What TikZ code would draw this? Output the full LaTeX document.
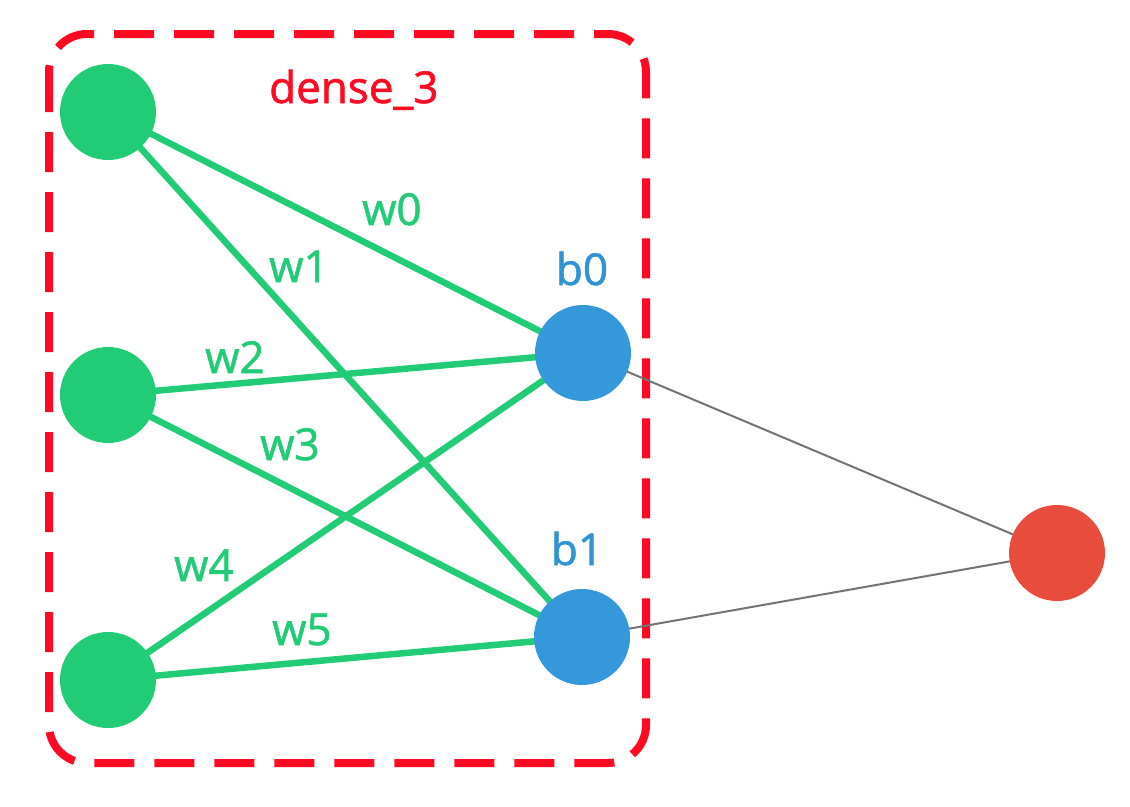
\documentclass[tikz,border=0pt]{standalone}
\usepackage{fontspec}
\setmainfont{Open Sans}
\newfontfamily\lblfont{Open Sans}[FakeBold=1.4]
\definecolor{ngreen}{HTML}{22CC77}
\definecolor{nblue}{HTML}{3498DB}
\definecolor{nred}{HTML}{E74C3C}
\definecolor{boxred}{HTML}{FF0A22}
\definecolor{lblue}{HTML}{3094D4}
\begin{document}
\begin{tikzpicture}[x=1pt,y=-1pt,
  neuron/.style={circle,inner sep=0pt,minimum size=96pt},
  gnode/.style={neuron,fill=ngreen},
  bnode/.style={neuron,fill=nblue},
  rnode/.style={neuron,fill=nred},
  wedge/.style={draw=ngreen,line width=6.5pt},
  gedge/.style={draw=gray!110,line width=2pt},
  lbl/.style={anchor=base west,inner sep=0pt,font=\lblfont\fontsize{44}{50}\selectfont},
  wlbl/.style={lbl,text=ngreen},
  blbl/.style={anchor=base,inner sep=0pt,font=\lblfont\fontsize{44}{50}\selectfont,text=lblue},
  layerbox/.style={draw=boxred,line width=8pt,rounded corners=38pt,dash pattern=on 40pt off 20pt}
]
\useasboundingbox (0,0) rectangle (1130,806);
\draw[layerbox] (49,34) rectangle (646,763);
\coordinate (g1c) at (108,112);
\coordinate (g2c) at (108,395);
\coordinate (g3c) at (108,680);
\coordinate (b0c) at (583,353);
\coordinate (b1c) at (582,637);
\coordinate (oc) at (1057,553);
\draw[gedge] (b0c) -- (oc);
\draw[gedge] (b1c) -- (oc);
\draw[wedge] (g1c) -- (b0c);
\draw[wedge] (g1c) -- (b1c);
\draw[wedge] (g2c) -- (b0c);
\draw[wedge] (g2c) -- (b1c);
\draw[wedge] (g3c) -- (b0c);
\draw[wedge] (g3c) -- (b1c);
\node[gnode] (g1) at (g1c) {};
\node[gnode] (g2) at (g2c) {};
\node[gnode] (g3) at (g3c) {};
\node[bnode] (b0) at (b0c) {};
\node[bnode] (b1) at (b1c) {};
\node[rnode] (o) at (oc) {};
\node[lbl,text=boxred] (title) at (269,103) {dense\_3};
\node[wlbl] (w0) at (362,225) {w0};
\node[wlbl] (w1) at (269,282) {w1};
\node[wlbl] (w2) at (205,373) {w2};
\node[wlbl] (w3) at (260,460) {w3};
\node[wlbl] (w4) at (174,581) {w4};
\node[wlbl] (w5) at (272,645) {w5};
\node[blbl] (lb0) at (582,285) {b0};
\node[blbl] (lb1) at (577,565) {b1};
\end{tikzpicture}
\end{document}
